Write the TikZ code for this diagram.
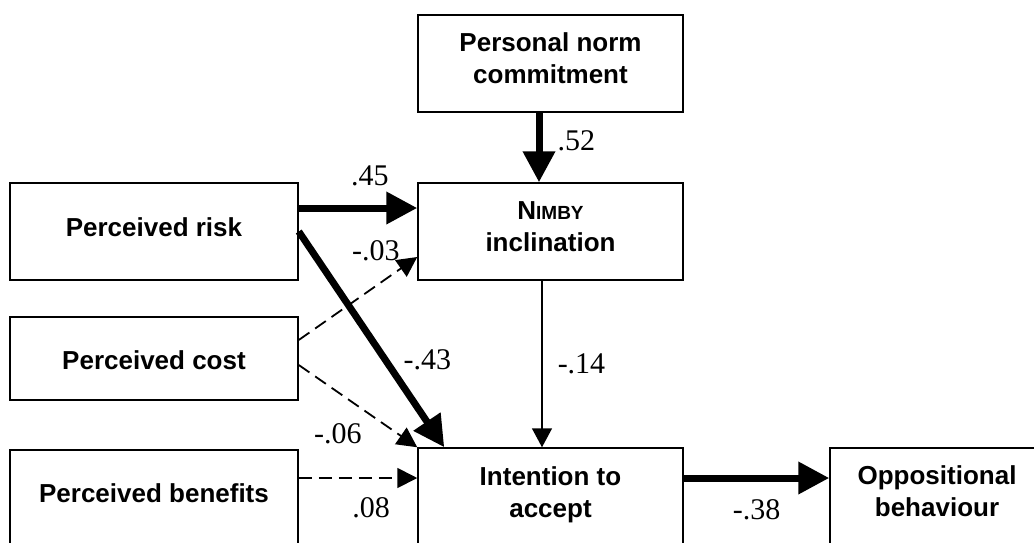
\documentclass[tikz,border=0pt]{standalone}
\usepackage{fontspec}
\setmainfont{Liberation Serif}
\setsansfont{Liberation Sans}
\usetikzlibrary{arrows.meta,positioning}
\newcommand{\boxlabel}[2][2pt]{\raisebox{#1}[\height][\depth]{\begin{tabular}{@{}c@{}}#2\end{tabular}}}

\begin{document}
\begin{tikzpicture}[x=1pt, y=-1pt,
    box/.style={draw, line width=1.5pt, minimum width=265pt, minimum height=97pt, inner sep=0pt, font=\sffamily\bfseries\fontsize{26}{32}\selectfont},
    coef/.style={inner sep=0pt, font=\fontsize{30}{30}\selectfont},
    strong/.style={line width=7pt, -{Triangle[length=31pt,width=31pt]}},
    weak/.style={line width=1.5pt, -{Triangle[length=19pt,width=20pt]}},
    nonsig/.style={line width=1.8pt, dash pattern=on 13pt off 7pt, -{Triangle[length=20pt,width=20pt]}}]
    \useasboundingbox (0,0) rectangle (1034,542);
    \clip (0,0) rectangle (1034,542);
    \node [box] (pnc) at (550.5,63.5) {\boxlabel{Personal norm\\commitment}};
    \node [box] (nimby) at (550.5,231.5) {\boxlabel{N{\fontsize{19}{19}\selectfont IMBY}\\inclination}};
    \node [box, minimum width=288pt] (risk) at (154,231.5) {\boxlabel[1pt]{Perceived risk}};
    \node [box, minimum width=288pt, minimum height=83pt] (cost) at (154,358.5) {\boxlabel[-5pt]{Perceived cost}};
    \node [box, minimum width=288pt] (benefits) at (154,498.5) {\boxlabel{Perceived benefits}};
    \node [box] (intention) at (550.5,496.5) {\boxlabel[1pt]{Intention to\\accept}};
    \node [box, minimum width=214pt] (opp) at (937,496.5) {\boxlabel{Oppositional\\behaviour}};
    \draw [strong] ([xshift=-11.5pt]pnc.south) -- ([xshift=-11.5pt]nimby.north) node [coef, pos=0.4, right=15pt] {.52};
    \draw [strong] ([yshift=23.5pt]risk.east) -- ([yshift=23.5pt]risk.east -| nimby.west) node [coef, pos=0.6, above=19pt] {.45};
    \draw [strong] (risk.east) -- ([xshift=27pt]intention.north west) node [coef, pos=0.594, right=15pt] {-.43};
    \draw [nonsig] ([yshift=18.5pt]cost.east) -- ([yshift=-25.5pt]nimby.west) node [coef, pos=0.65, above=24pt] {-.03};
    \draw [nonsig] ([yshift=-6.5pt]cost.east) -- (intention.north west) node [coef, pos=0.33, below=30pt] {-.06};
    \draw [nonsig] ([yshift=20.5pt]benefits.east) -- ([yshift=20.5pt]benefits.east -| intention.west) node [coef, pos=0.61, below=19pt] {.08};
    \draw [weak] ([xshift=-8.5pt]nimby.south) -- ([xshift=-8.5pt]intention.north) node [coef, midway, right=15pt] {-.14};
    \draw [strong] ([yshift=18.5pt]intention.east) -- ([yshift=18.5pt]intention.east -| opp.west) node [coef, midway, below=18pt] {-.38};
\end{tikzpicture}
\end{document}
